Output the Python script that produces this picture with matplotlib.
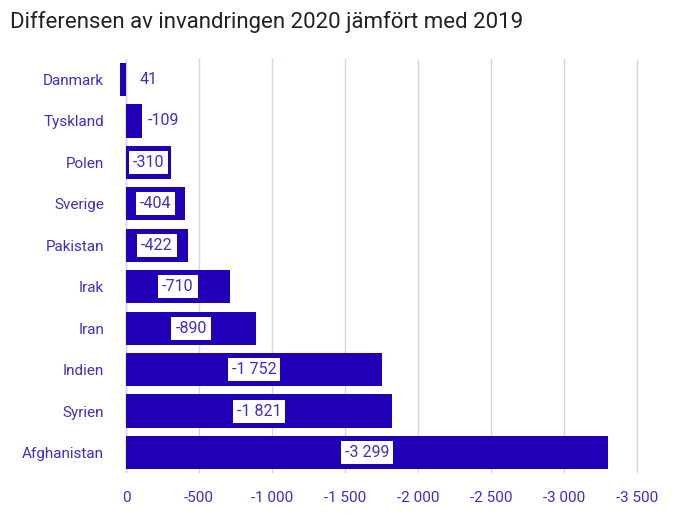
import matplotlib.pyplot as plt
from matplotlib.ticker import FuncFormatter

# Data
countries = ["Danmark", "Tyskland", "Polen", "Sverige", "Pakistan",
             "Irak", "Iran", "Indien", "Syrien", "Afghanistan"]
diff = [41, -109, -310, -404, -422, -710, -890, -1752, -1821, -3299]
ticks = [0, -500, -1000, -1500, -2000, -2500, -3000, -3500]

bar_color = "#2200b8"
text_color = "#3d2fc4"
grid_color = "#d6d3ec"

plt.rcParams['font.family'] = ['Roboto', 'DejaVu Sans']


def fmt(v, pos=None):
    s = f"{abs(int(round(v))):,}".replace(",", " ")
    return ("-" if v < 0 else "") + s


fig = plt.figure(figsize=(6.9, 5.16), dpi=100)
ax = fig.add_axes([0.171, 0.083, 0.784, 0.803])

y = list(range(len(countries)))
ax.barh(y, diff, height=0.8, color=bar_color, zorder=3)

for yi, v in zip(y, diff):
    if abs(v) < 250:
        x0 = min(v, 0)
        ax.annotate(fmt(v), xy=(x0, yi), xytext=(10 if v > 0 else 4, 0),
                    textcoords="offset points", ha="left", va="center",
                    color=text_color, fontsize=11.5, zorder=4)
    else:
        ax.text(v / 2, yi, fmt(v), ha="center", va="center",
                color=text_color, fontsize=11.5, zorder=4,
                bbox=dict(boxstyle="square,pad=0.25", fc="white", ec="none"))

ax.set_xlim(55, -3650)
ax.set_ylim(len(countries) - 0.5, -0.5)
ax.set_xticks(ticks)
ax.xaxis.set_major_formatter(FuncFormatter(fmt))
ax.set_yticks(y)
ax.set_yticklabels(countries)

ax.grid(axis="x", color=grid_color, linewidth=1, zorder=0)
for s in ax.spines.values():
    s.set_visible(False)
ax.axvline(0, color="#cccccc", linewidth=1, zorder=1)
ax.tick_params(axis="x", length=0, pad=13, labelsize=11, labelcolor=text_color)
ax.tick_params(axis="y", length=0, pad=10, labelsize=11, labelcolor=text_color)

fig.text(0.014, 0.957, "Differensen av invandringen 2020 jämfört med 2019",
         fontsize=16, color="#222222", ha="left", va="center")

fig.savefig("out.png", dpi=100)
